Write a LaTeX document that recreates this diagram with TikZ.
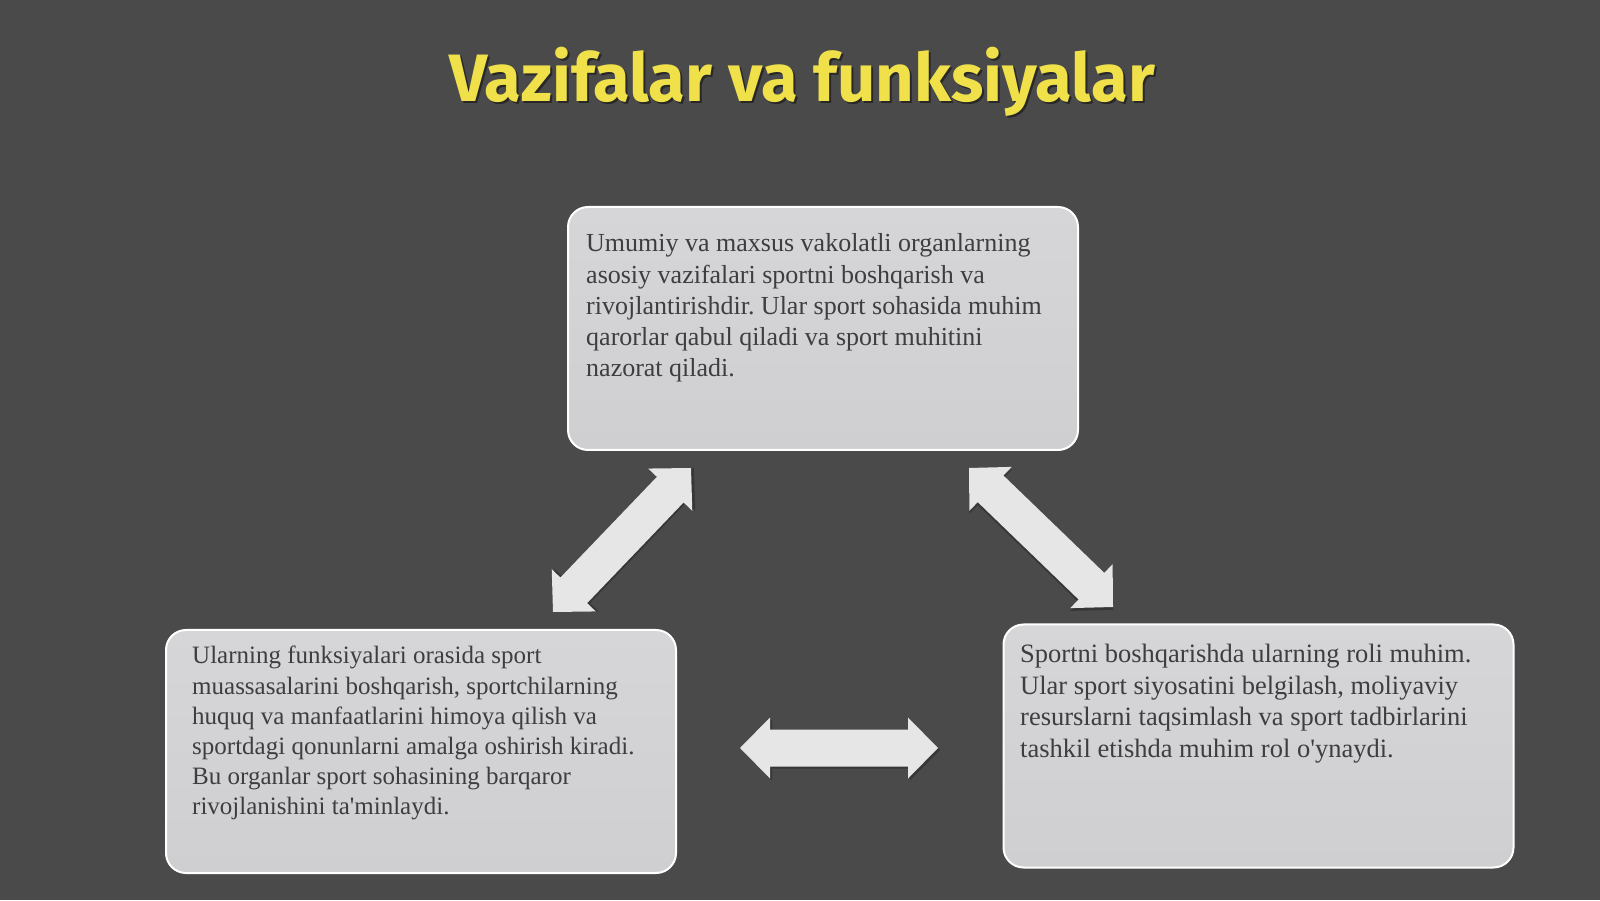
\documentclass[tikz,border=0pt]{standalone}
\usepackage{fontspec}
\setmainfont{Liberation Serif}
\newfontfamily\titlefont{Fira Sans}
\usetikzlibrary{calc}
\definecolor{bg}{HTML}{4A4A4A}
\definecolor{titleyellow}{HTML}{F0E14A}
\definecolor{boxfill}{HTML}{CFCFD1}
\definecolor{boxfilltop}{HTML}{D6D6D8}
\definecolor{boxtext}{HTML}{3E3E40}
\definecolor{arrowfill}{HTML}{E6E6E6}
\tikzset{
  infobox/.style={draw=white, line width=2pt, rounded corners=20pt, top color=boxfilltop, bottom color=boxfill, minimum width=510pt, minimum height=243pt, inner sep=0pt},
  boxtxt/.style={align=left, inner sep=0pt, text=boxtext, font=\frenchspacing\fontsize{26}{31.3}\selectfont},
  arrowbody/.style={fill=arrowfill},
  arrowshadow/.style={fill=black, opacity=0.25},
  titlefnt/.style={font=\titlefont\bfseries\fontsize{67}{72}\selectfont, anchor=base},
}
% block double arrow between two named coordinates
\newcommand\blockarrow[2]{%
  \path let \p1=(#1), \p2=(#2) in \pgfextra{%
    \pgfmathsetmacro\baang{atan2(\y2-\y1,\x2-\x1)}%
    \pgfmathsetmacro\balen{veclen(\x2-\x1,\y2-\y1)}%
    \xdef\baang{\baang}\xdef\balen{\balen}};
  \begin{scope}[shift={(#1)}, rotate=\baang]
    \foreach \sty/\dx/\dy in {arrowshadow/2/-2, arrowbody/0/0}{
      \fill[\sty, shift={(\dx,\dy)}] (0,0) -- (30,30.5) -- (30,18.5) -- (\balen-30,18.5) -- (\balen-30,30.5) -- (\balen,0)
        -- (\balen-30,-30.5) -- (\balen-30,-18.5) -- (30,-18.5) -- (30,-30.5) -- cycle;
    }
  \end{scope}}
\begin{document}
\begin{tikzpicture}[x=1pt,y=1pt]
\fill[bg] (0,0) rectangle (1600,900);
\useasboundingbox (0,0) rectangle (1600,900);

% title
\node[titlefnt, text=black, opacity=0.45] (titleshadow) at (804,796) {Vazifalar va funksiyalar};
\node[titlefnt, text=titleyellow] (title) at (802,798) {Vazifalar va funksiyalar};

% boxes
\node[infobox] (top) at (823,571.5) {};
\node[infobox] (left) at (421,148.5) {};
\node[infobox] (right) at (1258.5,154) {};

% texts
\node[boxtxt, anchor=north west] (toptext) at (586,666.5) {Umumiy va maxsus vakolatli organlarning\\asosiy vazifalari sportni boshqarish va\\rivojlantirishdir. Ular sport sohasida muhim\\qarorlar qabul qiladi va sport muhitini\\nazorat qiladi.};
\node[boxtxt, anchor=north west, font=\fontsize{25}{30.2}\selectfont] (lefttext) at (192,254) {Ularning funksiyalari orasida sport\\muassasalarini boshqarish, sportchilarning\\huquq va manfaatlarini himoya qilish va\\sportdagi qonunlarni amalga oshirish kiradi.\\Bu organlar sport sohasining barqaror\\rivojlanishini ta\textquotesingle minlaydi.};
\node[boxtxt, anchor=north west, font=\fontsize{26.5}{31.6}\selectfont] (righttext) at (1020,256) {Sportni boshqarishda ularning roli muhim.\\Ular sport siyosatini belgilash, moliyaviy\\resurslarni taqsimlash va sport tadbirlarini\\tashkil etishda muhim rol o\textquotesingle ynaydi.};

% arrow end points
\coordinate (la1) at (553,288);
\coordinate (la2) at (691,432);
\coordinate (ra1) at (969,432);
\coordinate (ra2) at (1113,293);
\coordinate (ha1) at (740,152);
\coordinate (ha2) at (938,152);

\blockarrow{la1}{la2}
\blockarrow{ra1}{ra2}
\blockarrow{ha1}{ha2}
\end{tikzpicture}
\end{document}
